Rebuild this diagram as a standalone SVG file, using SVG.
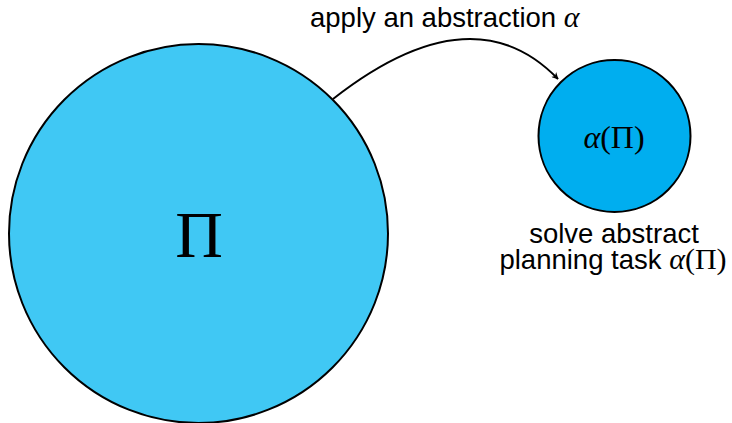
<svg xmlns="http://www.w3.org/2000/svg" width="732" height="423" viewBox="0 0 732 423">
<style>
.lbl{font-family:"Liberation Sans",Arial,sans-serif;font-size:27.5px;fill:#000}
.math{font-family:"Liberation Serif","Times New Roman",serif;fill:#000}
.ms{font-size:30px}
.mi{font-style:italic}
.node{stroke:#000;stroke-width:2}
</style>
<defs>
<marker id="ah" viewBox="0 0 10 10" refX="9" refY="5" markerWidth="7" markerHeight="7" orient="auto" markerUnits="userSpaceOnUse">
<path d="M0,0 L10,5 L0,10 L3,5 Z" fill="#000"/>
</marker>
</defs>
<rect width="732" height="423" fill="#fff"/>
<g id="connectors">
<path d="M333,99 Q472,-10 558,79" fill="none" stroke="#000" stroke-width="2" marker-end="url(#ah)"/>
<text class="lbl" x="310" y="27">apply an abstraction <tspan class="math mi ms">α</tspan></text>
</g>
<g id="node-pi">
<circle class="node" cx="198.5" cy="233.5" r="189.5" fill="#40C8F4"/>
<text class="math" x="199" y="257" font-size="66" text-anchor="middle">Π</text>
</g>
<g id="node-alpha-pi">
<circle class="node" cx="614.5" cy="136" r="76" fill="#00AEEF"/>
<text class="math" x="614" y="148" font-size="32" text-anchor="middle"><tspan class="mi">α</tspan>(Π)</text>
</g>
<g id="label-solve">
<text class="lbl" x="614" y="243" text-anchor="middle">solve abstract</text>
<text class="lbl" x="613" y="269" text-anchor="middle">planning task <tspan class="math mi ms">α</tspan><tspan class="math ms">(Π)</tspan></text>
</g>
</svg>
